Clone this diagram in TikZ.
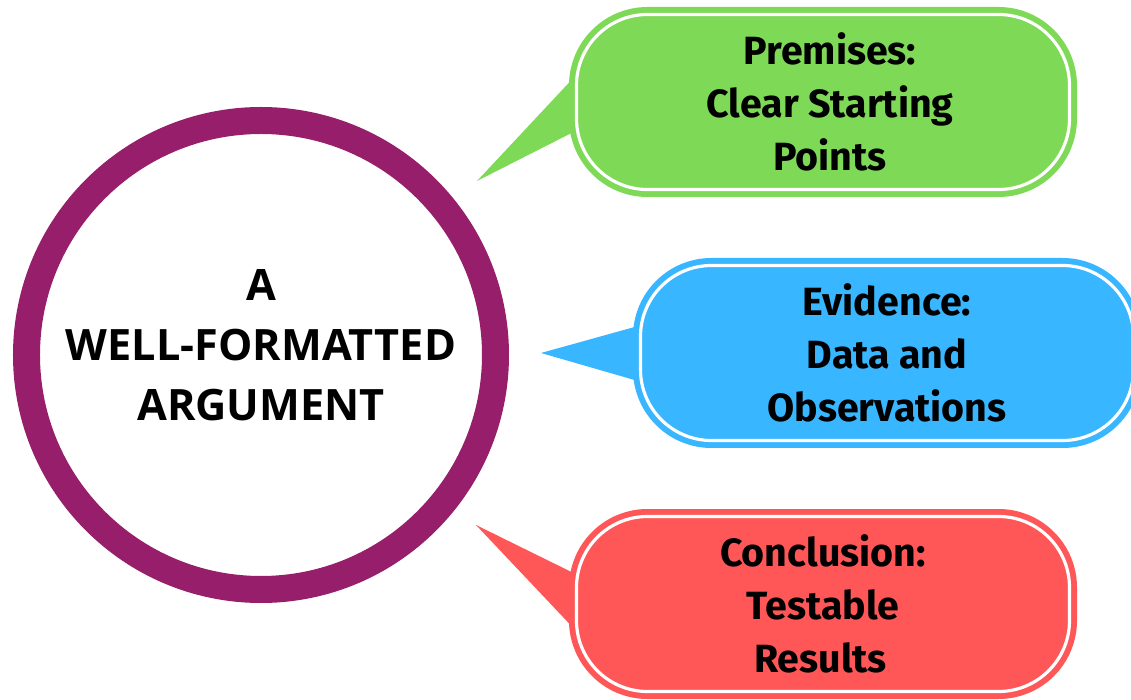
\documentclass[tikz,border=0pt]{standalone}
\usepackage{fontspec}
\usepackage{tikz}
\usetikzlibrary{positioning, calc, backgrounds}
\newfontfamily\hubfont{Open Sans}
\newfontfamily\bubblefont{Fira Sans}
\definecolor{argpurple}{HTML}{961E6A}
\definecolor{premgreen}{HTML}{7ED957}
\definecolor{evblue}{HTML}{38B6FF}
\definecolor{conred}{HTML}{FF5757}

\begin{document}
\begin{tikzpicture}[
  hub/.style={circle, draw=argpurple, line width=0.54cm, minimum size=9.38cm,
              inner sep=0pt, outer sep=0pt, align=center, text depth=0.4cm,
              font=\hubfont\bfseries\fontsize{24.6}{34}\selectfont},
  bubble/.style={rectangle, rounded corners=1.42cm, minimum width=9.86cm,
                 minimum height=3.5cm, inner sep=0pt, outer sep=0pt, align=center,
                 fill=#1, draw=white, line width=1.8pt,
                 preaction={draw=#1, line width=0.3cm},
                 font=\bubblefont\bfseries\fontsize{22.4}{30.2}\selectfont},
  node distance=1.52cm and 2.9cm,
]
  \useasboundingbox (-5.22,7.10) rectangle (17.40,-6.90);

  \node[hub] (arg) at (0,0) {A\\WELL-FORMATTED\\ARGUMENT};

  \node[bubble=evblue, right=2.9cm of arg, yshift=0.04cm] (ev)
    {Evidence:\\Data and\\Observations};
  \node[bubble=premgreen, above=1.52cm of ev, xshift=-1.28cm] (prem)
    {\hspace*{0.28cm}Premises:\\\hspace*{0.28cm}Clear Starting\\\hspace*{0.28cm}Points};
  \node[bubble=conred, below=1.52cm of ev, xshift=-1.28cm] (con)
    {Conclusion:\\Testable\\Results\hspace*{0.1cm}};

  % pointers towards the circle, kept behind the bubbles
  \begin{scope}[on background layer]
    \fill[white] (-5.22,7.10) rectangle (17.40,-6.90);
    \fill[premgreen] ($(prem.west)+(-0.1,0.44)$) -- ($(prem.west)+(-1.99,-1.58)$)
      -- ($(prem.west)+(-0.1,-0.62)$) -- cycle;
    \fill[evblue] ($(ev.west)+(-0.12,0.52)$) -- ($(ev.west)+(-1.99,0)$)
      -- ($(ev.west)+(-0.12,-0.54)$) -- cycle;
    \fill[conred] ($(con.west)+(-0.1,0.64)$) -- ($(con.west)+(-2.01,1.58)$)
      -- ($(con.west)+(-0.1,-0.44)$) -- cycle;
  \end{scope}
\end{tikzpicture}
\end{document}
